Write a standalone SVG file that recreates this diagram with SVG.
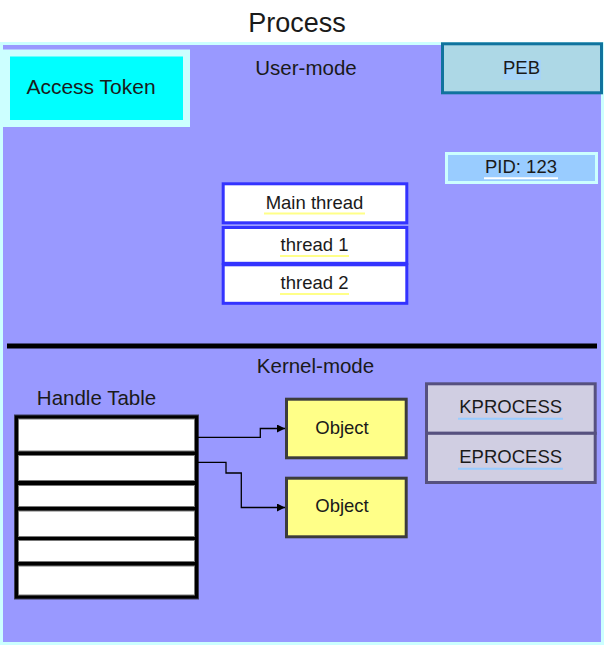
<svg xmlns="http://www.w3.org/2000/svg" width="604" height="645" viewBox="0 0 604 645">
<defs>
<style>
text{font-family:"Liberation Sans",Arial,sans-serif;fill:#1a1a1a;text-anchor:middle}
.hdr{font-size:20.5px}
.lbl{font-size:18.5px}
.thr{fill:#fff;stroke:#3333ff;stroke-width:3}
.row{fill:#fff;stroke:#777;stroke-width:1}
.obj{fill:#ffff88;stroke:#3c3c3c;stroke-width:3}
.kp{fill:#d0cee2;stroke:#56517f;stroke-width:3}
.conn{fill:none;stroke:#000;stroke-width:1.3}
</style>
<marker id="arr" viewBox="0 0 10 10" refX="10" refY="5" markerWidth="8" markerHeight="8" markerUnits="userSpaceOnUse" orient="auto">
<path d="M0,0 L10,5 L0,10 Z" fill="#000"/>
</marker>
</defs>
<text x="297" y="31.5" style="font-size:27px">Process</text>
<g id="process">
<rect x="1.5" y="43.5" width="601" height="600" fill="#9999ff" stroke="#ccffff" stroke-width="3"/>
</g>
<g id="access-token">
<rect x="6.5" y="53" width="180" height="70.5" fill="#00ffff" stroke="#ccffff" stroke-width="7"/>
<text x="91" y="94" style="font-size:21px">Access Token</text>
</g>
<g id="user-mode">
<text class="hdr" x="306" y="75">User-mode</text>
</g>
<g id="peb">
<rect x="442.5" y="43.8" width="159" height="49" fill="#add8e6" stroke="#10739e" stroke-width="3"/>
<rect x="503" y="60" width="38" height="20" fill="#a6d4f8"/>
<text class="lbl" x="521.5" y="74">PEB</text>
</g>
<g id="pid">
<rect x="446.5" y="153.5" width="150" height="29" fill="#99ccff" stroke="#ccffff" stroke-width="3"/>
<line x1="484" y1="178.3" x2="558" y2="178.3" stroke="#fff" stroke-width="2"/>
<text class="lbl" x="521" y="172.5">PID: 123</text>
</g>
<g id="main-thread">
<rect class="thr" x="223.2" y="183.8" width="183.6" height="39"/>
<line x1="264" y1="213.5" x2="365" y2="213.5" stroke="#ffff88" stroke-width="2"/>
<text class="lbl" x="314.5" y="209.3">Main thread</text>
</g>
<g id="thread-1">
<rect class="thr" x="223.2" y="227.5" width="183.6" height="35.8"/>
<line x1="280" y1="256" x2="349" y2="256" stroke="#ffff88" stroke-width="2"/>
<text class="lbl" x="314.5" y="251">thread 1</text>
</g>
<g id="thread-2">
<rect class="thr" x="223.2" y="264.8" width="183.6" height="38.5"/>
<line x1="280" y1="294" x2="349" y2="294" stroke="#ffff88" stroke-width="2"/>
<text class="lbl" x="314.5" y="289">thread 2</text>
</g>
<g id="separator">
<line x1="7" y1="346" x2="597" y2="346" stroke="#000" stroke-width="5"/>
</g>
<g id="kernel-mode">
<text class="hdr" x="315.5" y="373.3">Kernel-mode</text>
</g>
<g id="handle-table">
<text class="hdr" x="96.5" y="405">Handle Table</text>
<rect x="14.5" y="415" width="184" height="184" fill="#000" stroke="#3a3a55" stroke-width="1"/>
<rect class="row" x="18.5" y="419" width="176" height="32"/>
<rect class="row" x="18.5" y="455.5" width="176" height="25"/>
<rect class="row" x="18.5" y="485.5" width="176" height="21"/>
<rect class="row" x="18.5" y="511" width="176" height="25.5"/>
<rect class="row" x="18.5" y="540.5" width="176" height="21"/>
<rect class="row" x="18.5" y="566" width="176" height="29"/>
</g>
<g id="object-1">
<rect class="obj" x="286.5" y="399.2" width="119.7" height="58.6"/>
<text class="lbl" x="342" y="434">Object</text>
</g>
<g id="object-2">
<rect class="obj" x="286.5" y="478.2" width="119.7" height="58.6"/>
<text class="lbl" x="342" y="511.7">Object</text>
</g>
<g id="kprocess">
<rect class="kp" x="426.5" y="383.8" width="168.7" height="49.5"/>
<line x1="458" y1="418.7" x2="563" y2="418.7" stroke="#99ccff" stroke-width="2"/>
<text class="lbl" x="510.7" y="413.3">KPROCESS</text>
</g>
<g id="eprocess">
<rect class="kp" x="426.5" y="433.3" width="168.7" height="49.2"/>
<line x1="458" y1="468.7" x2="563" y2="468.7" stroke="#99ccff" stroke-width="2"/>
<text class="lbl" x="510.7" y="463.3">EPROCESS</text>
</g>
<g id="connectors">
<path class="conn" d="M197.5,437.3 H260.3 V428.5 H285" marker-end="url(#arr)"/>
<path class="conn" d="M197.5,462.3 H226 V473 H241.3 V507.5 H285" marker-end="url(#arr)"/>
</g>
</svg>
